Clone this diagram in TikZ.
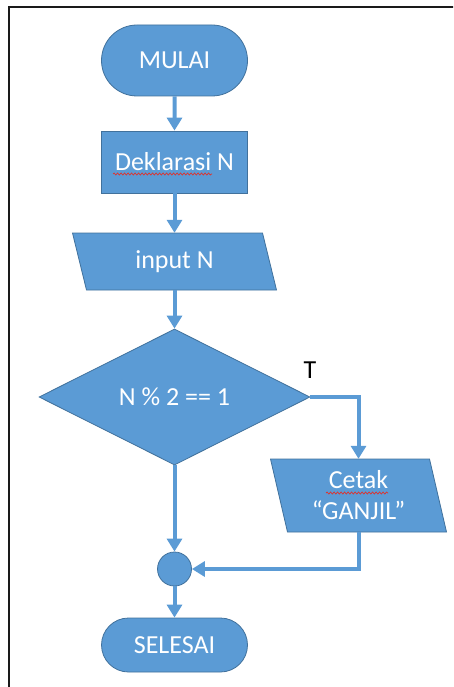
\documentclass[tikz,border=0pt]{standalone}
\usepackage{fontspec}
\setmainfont{Carlito}
\usetikzlibrary{shapes.geometric,shapes.misc,arrows.meta,decorations.pathmorphing}
\definecolor{boxfill}{HTML}{5B9BD5}
\definecolor{boxline}{HTML}{41719C}
\definecolor{flowline}{HTML}{5B9BD5}
\definecolor{spellred}{HTML}{E0302A}
\definecolor{framecol}{HTML}{1A1A1A}

\begin{document}
\begin{tikzpicture}[x=1pt,y=-1pt,
  every node/.style={font=\fontsize{26}{31}\selectfont},
  shapebox/.style={fill=boxfill, draw=boxline, line width=0.8pt, text=white, inner sep=0pt},
  terminal/.style={shapebox, rounded rectangle, minimum width=146pt},
  process/.style={shapebox, rectangle, minimum width=146pt, minimum height=62pt},
  decision/.style={shapebox, diamond, minimum width=271pt, minimum height=136pt},
  joint/.style={shapebox, circle, minimum size=34pt},
  iotext/.style={inner sep=0pt, text=white, align=center},
  flow/.style={draw=flowline, line width=4pt, -{Triangle[width=15pt,length=13pt]}},
  squiggle/.style={draw=spellred, line width=0.7pt, decorate,
    decoration={snake, amplitude=1pt, segment length=3.5pt}}
]
\useasboundingbox (0,0) rectangle (453,687);
\clip (0,0) rectangle (453,687);

% page frame
\draw[framecol, line width=2pt] (8.5,720) -- (8.5,7.5) -- (480,7.5);

% terminals and process box
\node[terminal, minimum height=71pt] (start) at (174.5,60.5) {MULAI};
\node[process] (decl) at (174.5,162) {Deklarasi N};

% input parallelogram
\coordinate (inC) at (174.5,261.5);
\filldraw[shapebox] ([xshift=-102pt,yshift=28.5pt]inC) -- ([xshift=88pt,yshift=28.5pt]inC)
  -- ([xshift=102pt,yshift=-28.5pt]inC) -- ([xshift=-88pt,yshift=-28.5pt]inC) -- cycle;
\node[iotext, minimum height=57pt, minimum width=150pt] (input) at (inC) {input N};

% decision
\node[decision] (dec) at (174.5,397) {N \% 2 == 1};
\node[text=black, inner sep=0pt] (tlabel) at (310,370) {T};

% output parallelogram
\coordinate (outC) at (358.5,495.5);
\filldraw[shapebox] ([xshift=-88pt,yshift=36.5pt]outC) -- ([xshift=71pt,yshift=36.5pt]outC)
  -- ([xshift=88pt,yshift=-36.5pt]outC) -- ([xshift=-71pt,yshift=-36.5pt]outC) -- cycle;
\node[iotext, minimum height=73pt, minimum width=120pt] (print) at (outC) {Cetak\\“GANJIL”};

% connector and end
\node[joint] (join) at (174.5,569) {};
\node[terminal, minimum height=54pt] (stop) at (174.5,645) {SELESAI};

% spell-check marks
\draw[squiggle] (113,174) -- (212,174);
\draw[squiggle] (326,493) -- (388,493);

% flow lines
\draw[flow] (start) -- (decl);
\draw[flow] (decl) -- (input);
\draw[flow] (input) -- (dec);
\draw[flow] (dec.east) -| (print.north);
\draw[flow] (dec.south) -- (join.north);
\draw[flow] (print.south) |- (join.east);
\draw[flow] (join) -- (stop);
\end{tikzpicture}
\end{document}
